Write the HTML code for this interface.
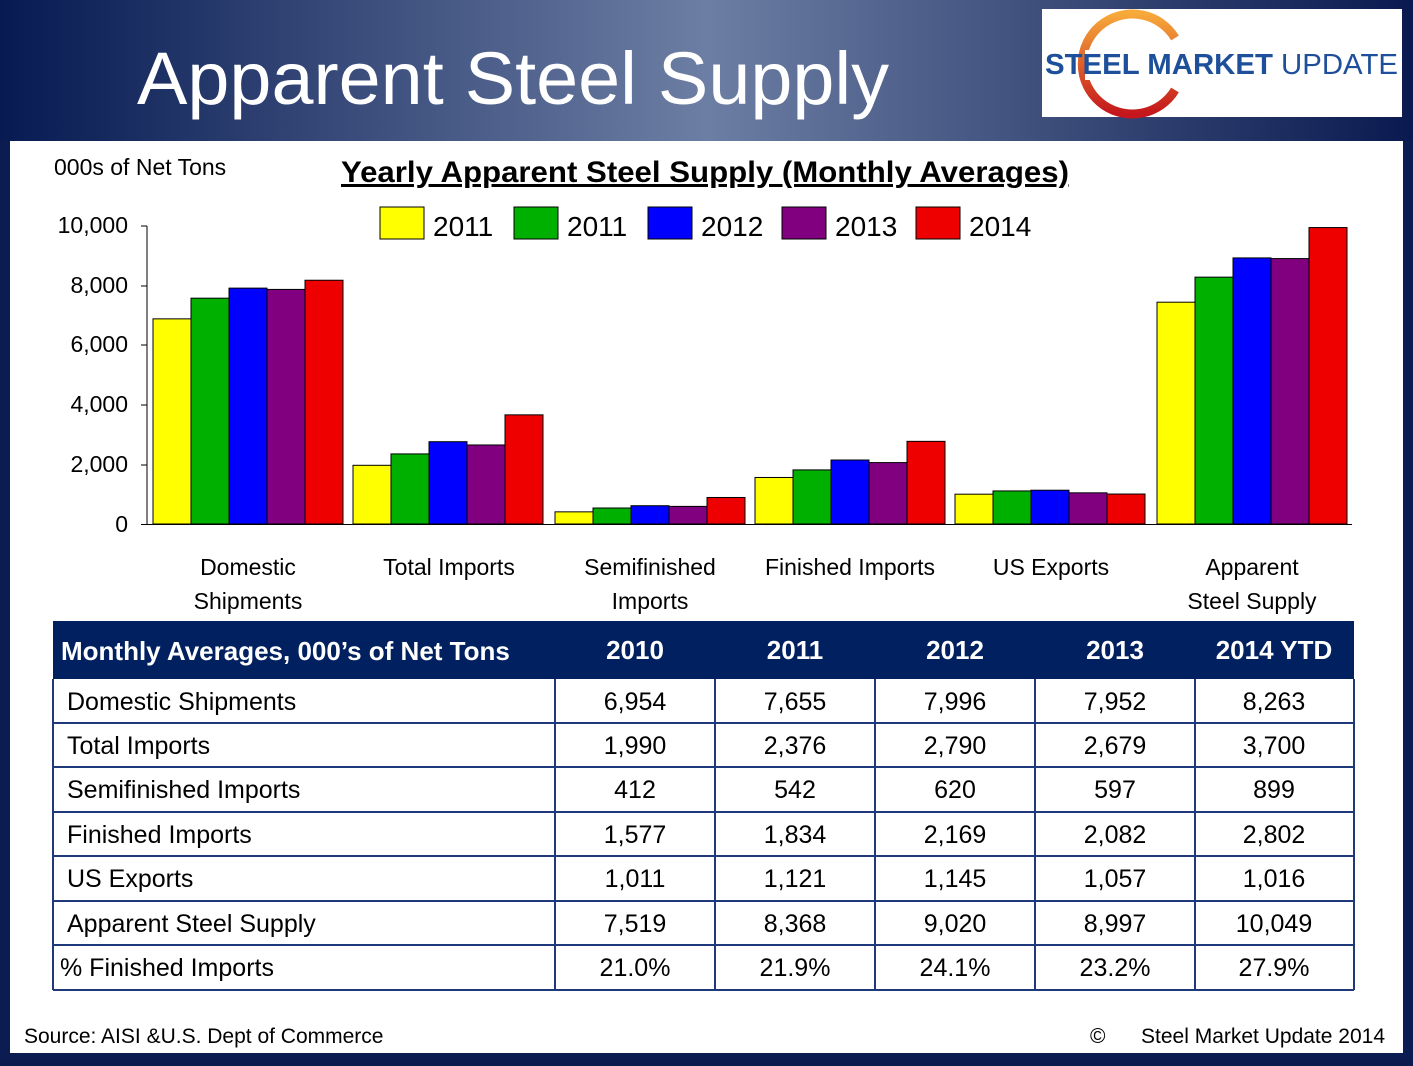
<!DOCTYPE html>
<html><head><meta charset="utf-8"><style>
body{margin:0;width:1413px;height:1061px;overflow:hidden;background:#0b1b4d;font-family:"Liberation Sans",sans-serif}
</style></head><body>
<svg width="1413" height="1061" xmlns="http://www.w3.org/2000/svg" font-family="Liberation Sans, DejaVu Sans, sans-serif">
<defs>
<linearGradient id="bg" x1="0" x2="1" y1="0" y2="0">
<stop offset="0" stop-color="#071a52"/><stop offset="0.5" stop-color="#6c7ea3"/><stop offset="1" stop-color="#0a1a50"/></linearGradient>
<linearGradient id="arc" x1="0" x2="0" y1="0" y2="1"><stop offset="0" stop-color="#f7a93a"/><stop offset="1" stop-color="#c4161c"/></linearGradient>
</defs>
<rect width="1413" height="1061" fill="#0a1c52"/>
<rect width="1413" height="141" fill="url(#bg)"/>
<text x="137" y="104" font-size="74" fill="#fff" textLength="752" lengthAdjust="spacingAndGlyphs">Apparent Steel Supply</text>
<rect x="1042" y="9" width="360" height="108" fill="#fff"/>
<path d="M1175 38 A50 50 0 1 0 1175 90" fill="none" stroke="url(#arc)" stroke-width="9"/>
<rect x="1085" y="50" width="240" height="30" fill="#fff"/>
<text x="1045" y="74" font-size="29" font-weight="bold" fill="#1e4f9a" textLength="353" lengthAdjust="spacingAndGlyphs">STEEL MARKET <tspan font-weight="normal">UPDATE</tspan></text>
<rect x="10" y="141" width="1393" height="912" fill="#fff"/>
<text x="54" y="175" font-size="23">000s of Net Tons</text>
<text x="341" y="182" font-size="30" font-weight="bold" text-decoration="underline" textLength="728" lengthAdjust="spacingAndGlyphs">Yearly Apparent Steel Supply (Monthly Averages)</text>
<g font-size="28">
<rect x="380" y="207" width="44" height="32" fill="#ffff00" stroke="#000"/><text x="433" y="236">2011</text>
<rect x="514" y="207" width="44" height="32" fill="#00b000" stroke="#000"/><text x="567" y="236">2011</text>
<rect x="648" y="207" width="44" height="32" fill="#0000ff" stroke="#000"/><text x="701" y="236">2012</text>
<rect x="782" y="207" width="44" height="32" fill="#800080" stroke="#000"/><text x="835" y="236">2013</text>
<rect x="916" y="207" width="44" height="32" fill="#ee0000" stroke="#000"/><text x="969" y="236">2014</text>
</g>
<g font-size="23" text-anchor="end">
<text x="128" y="233">10,000</text><text x="128" y="293">8,000</text><text x="128" y="352">6,000</text><text x="128" y="412">4,000</text><text x="128" y="472">2,000</text><text x="128" y="532">0</text>
</g>
<g stroke="#000"><line x1="147" y1="226" x2="147" y2="525"/><line x1="141" y1="226" x2="147" y2="226"/><line x1="141" y1="286" x2="147" y2="286"/><line x1="141" y1="345" x2="147" y2="345"/><line x1="141" y1="405" x2="147" y2="405"/><line x1="141" y1="465" x2="147" y2="465"/><line x1="141" y1="524.5" x2="1352" y2="524.5"/></g>
<g id="bars" stroke="#000" stroke-width="1"></g>
<g font-size="23" text-anchor="middle">
<text x="248" y="575">Domestic</text><text x="248" y="609">Shipments</text>
<text x="449" y="575">Total Imports</text>
<text x="650" y="575">Semifinished</text><text x="650" y="609">Imports</text>
<text x="850" y="575">Finished Imports</text>
<text x="1051" y="575">US Exports</text>
<text x="1252" y="575">Apparent</text><text x="1252" y="609">Steel Supply</text>
</g>
<rect x="53" y="621" width="1301" height="58" fill="#002060"/>
<g font-size="26" font-weight="bold" fill="#fff">
<text x="61" y="660">Monthly Averages, 000’s of Net Tons</text>
<g text-anchor="middle"><text x="635" y="659">2010</text><text x="795" y="659">2011</text><text x="955" y="659">2012</text><text x="1115" y="659">2013</text><text x="1274" y="659">2014 YTD</text></g>
</g>
<g id="tbl" font-size="25"></g>
<text x="24" y="1043" font-size="21">Source:  AISI &amp;U.S. Dept of Commerce</text>
<text x="1090" y="1043" font-size="21">©</text>
<text x="1385" y="1043" font-size="21" text-anchor="end">Steel Market Update 2014</text>
</svg>
<script>
var d=[[6954,7655,7996,7952,8263],[1990,2376,2790,2679,3700],[412,542,620,597,899],[1577,1834,2169,2082,2802],[1011,1121,1145,1057,1016],[7519,8368,9020,8997,10049]];
var lab=["Domestic Shipments","Total Imports","Semifinished Imports","Finished Imports","US Exports","Apparent Steel Supply","% Finished Imports"];
var pct=["21.0%","21.9%","24.1%","23.2%","27.9%"];
var cols=["#ffff00","#00b000","#0000ff","#800080","#ee0000"];
var gs=[153,353,555,755,955,1157],ns="http://www.w3.org/2000/svg",b=document.getElementById("bars");
d.forEach(function(r,i){r.forEach(function(v,j){var h=v*0.0295;var e=document.createElementNS(ns,"rect");e.setAttribute("x",gs[i]+j*38);e.setAttribute("y",524-h);e.setAttribute("width",38);e.setAttribute("height",h);e.setAttribute("fill",cols[j]);b.appendChild(e);});});
var t=document.getElementById("tbl"),ys=[679,723,767,812,856,901,945,990],cx=[635,795,955,1115,1274];
function add(tag,a,txt){var e=document.createElementNS(ns,tag);for(var k in a)e.setAttribute(k,a[k]);if(txt)e.textContent=txt;t.appendChild(e);}
for(var i=0;i<7;i++){var y0=ys[i],y1=ys[i+1];
add("text",{x:i==6?60:67,y:y0+31},lab[i]);
for(var j=0;j<5;j++){var v=i==6?pct[j]:d[i][j].toLocaleString("en-US");add("text",{x:cx[j],y:y0+31,"text-anchor":"middle"},v);}
add("line",{x1:53,x2:1354,y1:y1,y2:y1,stroke:"#1f3a7a","stroke-width":2});}
[53,555,715,875,1035,1195,1354].forEach(function(x){add("line",{x1:x,x2:x,y1:679,y2:990,stroke:"#1f3a7a","stroke-width":2});});
</script>
</body></html>
